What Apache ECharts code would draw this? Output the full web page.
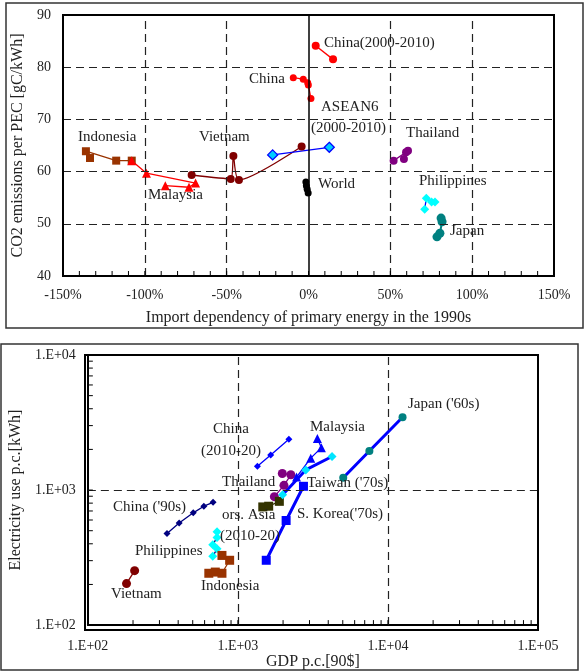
<!DOCTYPE html>
<html>
<head>
<meta charset="utf-8">
<script src="https://cdn.jsdelivr.net/npm/echarts@6/dist/echarts.min.js"></script>
<style>
html,body{margin:0;padding:0;background:#fff}
#chart{width:584px;height:671px}
</style>
</head>
<body>
<div id="chart"></div>
<script>
// ---- Upper panel: import dependency (%) vs CO2 per PEC (gC/kWh) ----
const depTicks = [-150, -100, -50, 0, 50, 100, 150];
const co2Ticks = [40, 50, 60, 70, 80, 90];
const indonesiaDep = [[-133.5, 62.6], [-136, 63.9], [-117.5, 62.1], [-108, 62.1]];
const malaysiaDep = [[-108, 62.1], [-99, 59.7], [-69, 57.8], [-73, 57.0], [-87.5, 57.3]];
const vietnamDep = [[-71.4, 59.35], [-47.5, 58.6], [-45.9, 63.0], [-42.5, 58.4], [-4.2, 64.8]];
const asean6Dep = [[-21.9, 63.2], [12.7, 64.65]];
const chinaDep = [[-9.3, 78.0], [-3.2, 77.7], [-0.5, 77.0], [-0.1, 76.6], [1.5, 74.0]];
const china0010Dep = [[4.4, 84.1], [15.0, 81.5]];
const worldDep = [[-1.6, 58.0], [-1.3, 57.3], [-0.8, 56.6], [-0.2, 55.9]];
const thailandDep = [[52, 62.1], [59.6, 63.7], [60.8, 64.0], [58.3, 62.4]];
const philippinesDep = [[71, 52.8], [72, 54.9], [75.2, 54.2], [77.3, 54.2]];
const japanDep = [[81, 51.1], [81.6, 50.4], [80.3, 48.2], [78.5, 47.5]];

// ---- Lower panel: GDP per capita (1990 $) vs electricity use per capita (kWh) ----
const gdpTicks = [1e2, 1e3, 1e4, 1e5];
const elecTicks = [1e2, 1e3, 1e4];
const china90s = [[337, 477], [406, 570], [504, 678], [593, 759], [683, 811]];
const china1020 = [[1349, 1500], [1654, 1821], [2187, 2382]];
const thailandGdp = [[1750, 893], [2027, 1084], [2254, 1297], [1977, 1327]];
const othersAsia = [[1465, 750], [1604, 759], [1889, 825]];
const malaysiaGdp = [[2459, 1247], [3059, 1723], [3600, 2061], [3387, 2409]];
const taiwan70s = [[1986, 923], [2833, 1410], [4240, 1773]];
const japan60s = [[5035, 1233], [7520, 1947], [12510, 3464]];
const korea70s = [[1545, 302], [2096, 595], [2735, 1066]];
const philippinesGdp = [[726, 491], [726, 446], [680, 393], [726, 367], [680, 323]];
const indonesiaGdp = [[640, 242], [707, 247], [783, 242], [881, 302], [783, 328]];
const vietnamGdp = [[181, 203], [205, 253]];

const FONT = 'Liberation Serif';
const TXT = '#222';

function logMinor(lo, hi) {
  const out = [];
  for (let d = lo; d < hi; d *= 10) for (let k = 1; k < 10; k++) out.push(d * k);
  out.push(hi);
  return out;
}
function linMinor(lo, hi, step) {
  const out = [];
  for (let v = lo; v <= hi + 1e-9; v += step) out.push(v);
  return out;
}
const sciLabel = v => '1.E+' + String(Math.round(Math.log10(v))).padStart(2, '0');

const dashStyle = { type: [8, 5], color: '#222', width: 1.2 };

// dashed reference lines drawn as markLines (inner positions only)
function gridLines(xs, ys, extra) {
  const data = xs.map(v => ({ xAxis: v })).concat(ys.map(v => ({ yAxis: v })));
  return {
    silent: true, symbol: 'none', label: { show: false }, animation: false,
    lineStyle: dashStyle,
    data: data.concat(extra || [])
  };
}

function line(name, data, opts) {
  return Object.assign({
    type: 'line', name, data, xAxisIndex: opts.g, yAxisIndex: opts.g,
    symbol: opts.symbol || 'circle', symbolSize: opts.size || 8,
    showSymbol: true, silent: true,
    lineStyle: { color: opts.line || opts.color, width: opts.width || 1.3 },
    itemStyle: Object.assign({ color: opts.color }, opts.item || {}),
    z: opts.z || 3
  }, opts.extra || {});
}

const labelsTop = [
  ['China(2000-2010)', 324, 43], ['China', 249, 79], ['ASEAN6', 321, 107],
  ['(2000-2010)', 311, 128], ['Thailand', 406, 133], ['Indonesia', 78, 137],
  ['Vietnam', 199, 137], ['Malaysia', 148, 195], ['World', 318, 184],
  ['Philippines', 419, 181], ['Japan', 450, 231]
];
const labelsBottom = [
  ["Japan ('60s)", 408, 404], ['Malaysia', 310, 427], ["Taiwan ('70s)", 307, 483],
  ["S. Korea('70s)", 297, 514], ['China', 213, 429], ['(2010-20)', 201, 451],
  ['Thailand', 222, 482], ["China ('90s)", 113, 507], ['ors. Asia', 222, 515],
  ['(2010-20)', 220, 536], ['Philippines', 135, 551], ['Indonesia', 201, 586],
  ['Vietnam', 111, 594]
];
const textEls = labelsTop.concat(labelsBottom).map(([t, x, y]) => ({
  type: 'text', x, y, z: 20, silent: true,
  style: { text: t, fill: TXT, font: '15px "' + FONT + '"', textVerticalAlign: 'middle' }
}));

const frames = [
  { type: 'rect', shape: { x: 6, y: 3, width: 577, height: 325 }, style: { fill: null, stroke: '#333', lineWidth: 1.5 }, z: 1 },
  { type: 'rect', shape: { x: 1, y: 344, width: 577, height: 326 }, style: { fill: null, stroke: '#333', lineWidth: 1.5 }, z: 1 },
  { type: 'rect', shape: { x: 63, y: 15, width: 491, height: 261 }, style: { fill: null, stroke: '#000', lineWidth: 2 }, z: 30 },
  { type: 'rect', shape: { x: 85, y: 355, width: 453, height: 275 }, style: { fill: null, stroke: '#000', lineWidth: 2 }, z: 30 }
];

const axisLineStyle = { show: true, onZero: false, lineStyle: { color: '#000', width: 2 } };
const tickLabel = { fontSize: 14, color: TXT, fontFamily: FONT };
const nameStyle = { fontSize: 16, color: TXT, fontFamily: FONT };

const option = {
  animation: false,
  backgroundColor: '#fff',
  textStyle: { fontFamily: FONT },
  grid: [
    { left: 63, top: 15, width: 491, height: 261 },
    { left: 85, top: 355, width: 453, height: 275 }
  ],
  xAxis: [
    {
      gridIndex: 0, type: 'value', min: depTicks[0], max: depTicks[depTicks.length - 1], interval: 50,
      name: 'Import dependency of primary energy in the 1990s', nameLocation: 'middle', nameGap: 34,
      nameTextStyle: nameStyle, axisLine: axisLineStyle, axisTick: { show: false },
      axisLabel: Object.assign({ formatter: v => v + '%', margin: 12 }, tickLabel),
      splitLine: { show: false }
    },
    {
      gridIndex: 1, type: 'log', logBase: 10, min: gdpTicks[0], max: gdpTicks[gdpTicks.length - 1],
      name: 'GDP p.c.[90$]', nameLocation: 'middle', nameGap: 22,
      nameTextStyle: nameStyle, axisLine: axisLineStyle, axisTick: { show: false },
      axisLabel: Object.assign({ formatter: sciLabel, margin: 14 }, tickLabel),
      splitLine: { show: false }
    }
  ],
  yAxis: [
    {
      gridIndex: 0, type: 'value', min: co2Ticks[0], max: co2Ticks[co2Ticks.length - 1], interval: 10,
      name: 'CO2 emissions per PEC [gC/kWh]', nameLocation: 'middle', nameGap: 33,
      nameTextStyle: nameStyle, axisLine: axisLineStyle, axisTick: { show: false },
      axisLabel: Object.assign({ margin: 12 }, tickLabel),
      splitLine: { show: false }
    },
    {
      gridIndex: 1, type: 'log', logBase: 10, min: elecTicks[0], max: elecTicks[elecTicks.length - 1],
      name: 'Electricity use p.c.[kWh]', nameLocation: 'middle', nameGap: 61,
      nameTextStyle: nameStyle, axisLine: axisLineStyle, axisTick: { show: false },
      axisLabel: Object.assign({ formatter: sciLabel, margin: 12 }, tickLabel),
      splitLine: { show: false }
    }
  ],
  series: [
    // upper panel
    line('Indonesia', indonesiaDep, { g: 0, color: '#993300', symbol: 'rect', size: 8,
      extra: { markLine: gridLines([-100, -50, 50, 100], [50, 60, 70, 80],
        [{ xAxis: 0, lineStyle: { type: 'solid', color: '#000', width: 1.5 } }]) } }),
    line('Malaysia', malaysiaDep, { g: 0, color: '#ff0000', symbol: 'triangle', size: 9 }),
    line('Vietnam', vietnamDep, { g: 0, color: '#800000', size: 8, extra: { smooth: 0.25 } }),
    line('ASEAN6 (2000-2010)', asean6Dep, { g: 0, color: '#00ccff', line: '#0000ff', symbol: 'diamond', size: 10, item: { borderColor: '#0000ff', borderWidth: 1.3 } }),
    line('China', chinaDep, { g: 0, color: '#ff0000', size: 7 }),
    line('China(2000-2010)', china0010Dep, { g: 0, color: '#ff0000', size: 8 }),
    line('World', worldDep, { g: 0, color: '#000000', size: 7, width: 2 }),
    line('Thailand', thailandDep, { g: 0, color: '#800080', size: 8 }),
    line('Philippines', philippinesDep, { g: 0, color: '#00ffff', line: '#0000ff', symbol: 'diamond', size: 9 }),
    line('Japan', japanDep, { g: 0, color: '#008080', size: 9, width: 2 }),
    // lower panel
    line("China ('90s)", china90s, { g: 1, color: '#000080', symbol: 'diamond', size: 7,
      extra: { markLine: gridLines([1e3, 1e4], [1e3]) } }),
    line('China (2010-20)', china1020, { g: 1, color: '#0000ff', symbol: 'diamond', size: 7 }),
    line('Thailand', thailandGdp, { g: 1, color: '#800080', size: 9 }),
    line('Others Asia (2010-20)', othersAsia, { g: 1, color: '#333300', symbol: 'rect', size: 9 }),
    line('Malaysia', malaysiaGdp, { g: 1, color: '#0000ff', symbol: 'triangle', size: 9 }),
    line("Taiwan ('70s)", taiwan70s, { g: 1, color: '#00e5ff', line: '#0000ff', symbol: 'diamond', size: 9, width: 3 }),
    line("Japan ('60s)", japan60s, { g: 1, color: '#008080', line: '#0000ff', size: 8, width: 3 }),
    line("S. Korea('70s)", korea70s, { g: 1, color: '#0000ff', symbol: 'rect', size: 9, width: 3 }),
    line('Philippines', philippinesGdp, { g: 1, color: '#00ffff', line: '#000080', symbol: 'diamond', size: 9 }),
    line('Indonesia', indonesiaGdp, { g: 1, color: '#993300', symbol: 'rect', size: 9 }),
    line('Vietnam', vietnamGdp, { g: 1, color: '#800000', size: 9 })
  ],
  graphic: { elements: frames.concat(textEls) }
};

const chart = echarts.init(document.getElementById('chart'), null, { renderer: 'canvas' });
chart.setOption(option);

// Inner minor ticks, placed through each grid's own axis scales
const TICK = 5;
function tickSeg(p, dx, dy) {
  return { type: 'line', z: 31, silent: true,
    shape: { x1: p[0], y1: p[1], x2: p[0] + dx, y2: p[1] + dy },
    style: { stroke: '#000', lineWidth: 1 } };
}
const ticks = [];
linMinor(-150, 150, 10).forEach(v => ticks.push(tickSeg(chart.convertToPixel({ gridIndex: 0 }, [v, co2Ticks[0]]), 0, -TICK)));
logMinor(1e2, 1e5).forEach(v => ticks.push(tickSeg(chart.convertToPixel({ gridIndex: 1 }, [v, elecTicks[0]]), 0, -TICK)));
logMinor(1e2, 1e4).forEach(v => ticks.push(tickSeg(chart.convertToPixel({ gridIndex: 1 }, [gdpTicks[0], v]), TICK, 0)));
chart.setOption({ graphic: { elements: frames.concat(textEls, ticks) } });
</script>
</body>
</html>
